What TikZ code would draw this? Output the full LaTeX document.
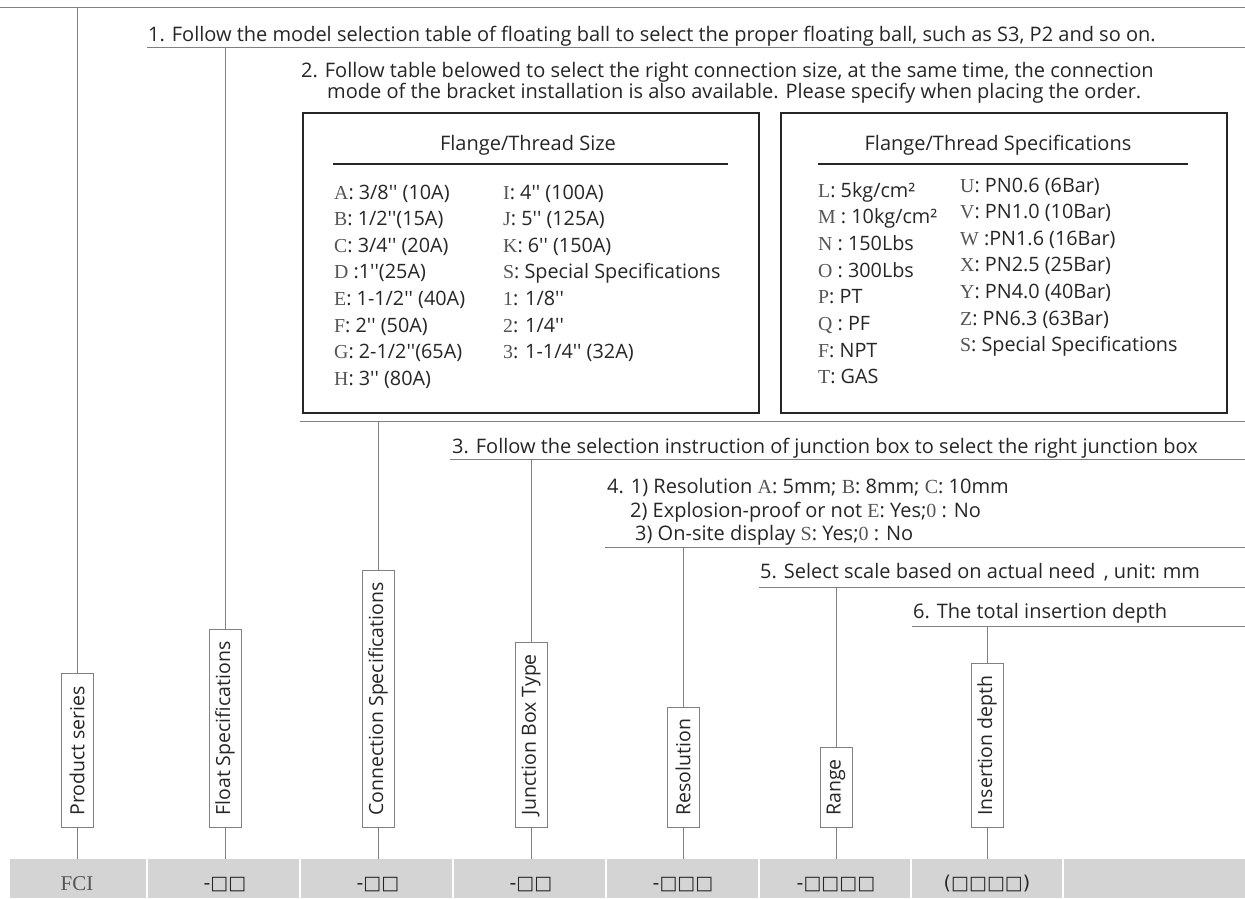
\documentclass[tikz,border=0pt]{standalone}
\usepackage{fontspec}
\newfontfamily\osans{Open Sans}
\newfontfamily\lserif{Liberation Serif}
\newfontfamily\dvs{DejaVu Sans}
\definecolor{ink}{HTML}{262626}
\definecolor{letg}{HTML}{555555}
\definecolor{linegray}{HTML}{808080}
\definecolor{bargray}{HTML}{D4D4D4}
\newcommand\LL[1]{{\lserif\color{letg}#1}}
\begin{document}
\begin{tikzpicture}[x=1pt,y=-1pt,
  txt/.style={font=\osans\fontsize{20}{20}\selectfont, text=ink, inner sep=0pt, anchor=base west},
  ent/.style={font=\osans\fontsize{19.8}{19.8}\selectfont, text=ink, inner sep=0pt, anchor=base west},
  ttl/.style={font=\osans\fontsize{20}{20}\selectfont, text=ink, inner sep=0pt, anchor=base},
  lbl/.style={draw=linegray, line width=0.9pt, fill=white, rotate=90, anchor=west, font=\osans\fontsize{19.5}{19.5}\selectfont, text=ink, inner xsep=12pt, inner ysep=0pt, minimum height=32pt},
  conn/.style={draw=linegray, line width=1pt},
  tbox/.style={draw=ink, line width=2pt},
  rulel/.style={draw=ink, line width=1.6pt},
  code/.style={font=\dvs\fontsize{19}{19}\selectfont, text=ink, inner sep=0pt},
]
\useasboundingbox (0,0) rectangle (1245,898);
\fill[white] (0,0) rectangle (1245,898);

% bottom bar
\node[fill=bargray, draw=none, minimum width=1235pt, minimum height=39pt, anchor=north west, inner sep=0pt] (bar) at (10,859) {};
\foreach \xx in {147,300,453,606,759,911,1063}{
  \draw[white, line width=2pt] (\xx,859) -- (\xx,898);
}
\node[font=\lserif\fontsize{21}{21}\selectfont, text=letg, inner sep=0pt] (c1) at (77,884) {FCI};
\node[code] (c2) at (225,885) {-□□};
\node[code] (c3) at (378,885) {-□□};
\node[code] (c4) at (531,885) {-□□};
\node[code] (c5) at (683,885) {-□□□};
\node[code] (c6) at (836,885) {-□□□□};
\node[code] (c7) at (987,884) {(□□□□)};

% horizontal guide lines
\coordinate (h0s) at (0,7);     \coordinate (h0e) at (1245,7);
\coordinate (h1s) at (147,47);  \coordinate (h1e) at (1245,47);
\coordinate (h2s) at (300,421); \coordinate (h2e) at (1245,421);
\coordinate (h3s) at (450,459); \coordinate (h3e) at (1245,459);
\coordinate (h4s) at (605,547); \coordinate (h4e) at (1245,547);
\coordinate (h5s) at (759,587); \coordinate (h5e) at (1245,587);
\coordinate (h6s) at (912,626); \coordinate (h6e) at (1245,626);
\foreach \i in {0,...,6}{ \draw[conn] (h\i s) -- (h\i e); }

% texts
\node[txt] (t1) at (148,41) {1. Follow the model selection table of floating ball to select the proper floating ball, such as S3, P2 and so on.};
\node[txt] (t2a) at (301,77) {2. Follow table belowed to select the right connection size, at the same time, the connection};
\node[txt] (t2b) at (327,98) {mode of the bracket installation is also available. Please specify when placing the order.};
\node[txt] (t3) at (452,453) {3. Follow the selection instruction of junction box to select the right junction box};
\node[txt] (t4a) at (607,493) {4. 1) Resolution \LL{A}: 5mm; \LL{B}: 8mm; \LL{C}: 10mm};
\node[txt] (t4b) at (630,517) {2) Explosion-proof or not \LL{E}: Yes;\LL{0} : No};
\node[txt] (t4c) at (635,540) {3) On-site display \LL{S}: Yes;\LL{0} : No};
\node[txt] (t5) at (760,578) {5. Select scale based on actual need\, , unit: mm};
\node[txt] (t6) at (913,618) {6. The total insertion depth};

% tables
\node[tbox, minimum width=456pt, minimum height=300pt, anchor=north west, inner sep=0pt] (tb1) at (302,112) {};
\node[tbox, minimum width=446pt, minimum height=300pt, anchor=north west, inner sep=0pt] (tb2) at (780,112) {};
\node[ttl] (tt1) at (528,150) {Flange/Thread Size};
\node[ttl] (tt2) at (998,150) {Flange/Thread Specifications};
\coordinate (r1s) at (333,164); \coordinate (r1e) at (728,164);
\coordinate (r2s) at (818,164); \coordinate (r2e) at (1188,164);
\draw[rulel] (r1s) -- (r1e);
\draw[rulel] (r2s) -- (r2e);

\foreach \t [count=\i from 0] in {
  {\LL{A}: 3/8'' (10A)}, {\LL{B}: 1/2''(15A)}, {\LL{C}: 3/4'' (20A)}, {\LL{D} :1''(25A)},
  {\LL{E}: 1-1/2'' (40A)}, {\LL{F}: 2'' (50A)}, {\LL{G}: 2-1/2''(65A)}, {\LL{H}: 3'' (80A)}}{
  \node[ent] (la\i) at (334,{199+26.6*\i}) {\t};
}
\foreach \t [count=\i from 0] in {
  {\LL{I}: 4'' (100A)}, {\LL{J}: 5'' (125A)}, {\LL{K}: 6'' (150A)}, {\LL{S}: Special Specifications},
  {\LL{1}: 1/8''}, {\LL{2}: 1/4''}, {\LL{3}: 1-1/4'' (32A)}}{
  \node[ent] (lb\i) at (503,{199+26.6*\i}) {\t};
}
\foreach \t [count=\i from 0] in {
  {\LL{L}: 5kg/cm²}, {\LL{M} : 10kg/cm²}, {\LL{N} : 150Lbs}, {\LL{O} : 300Lbs},
  {\LL{P}: PT}, {\LL{Q} : PF}, {\LL{F}: NPT}, {\LL{T}: GAS}}{
  \node[ent] (ra\i) at (818,{197+26.7*\i}) {\t};
}
\foreach \t [count=\i from 0] in {
  {\LL{U}: PN0.6 (6Bar)}, {\LL{V}: PN1.0 (10Bar)}, {\LL{W} :PN1.6 (16Bar)}, {\LL{X}: PN2.5 (25Bar)},
  {\LL{Y}: PN4.0 (40Bar)}, {\LL{Z}: PN6.3 (63Bar)}, {\LL{S}: Special Specifications}}{
  \node[ent] (rb\i) at (960,{192+26.6*\i}) {\t};
}

% label boxes
\node[lbl] (L1) at (77,828)  {Product series};
\node[lbl] (L2) at (225,828) {Float Specifications};
\node[lbl] (L3) at (378,828) {Connection Specifications};
\node[lbl] (L4) at (531,828) {Junction Box Type};
\node[lbl] (L5) at (683,828) {Resolution};
\node[lbl] (L6) at (836,828) {Range};
\node[lbl] (L7) at (987,828) {Insertion depth};

% connectors
\coordinate (v1) at (77,7);
\coordinate (v2) at (225,47);
\coordinate (v3) at (378,421);
\coordinate (v4) at (531,459);
\coordinate (v5) at (683,547);
\coordinate (v6) at (836,587);
\coordinate (v7) at (987,626);
\foreach \i in {1,...,7}{
  \draw[conn] (v\i) -- (L\i.east);
  \draw[conn] (L\i.west) -- (L\i.west |- bar.north);
}
\end{tikzpicture}
\end{document}
